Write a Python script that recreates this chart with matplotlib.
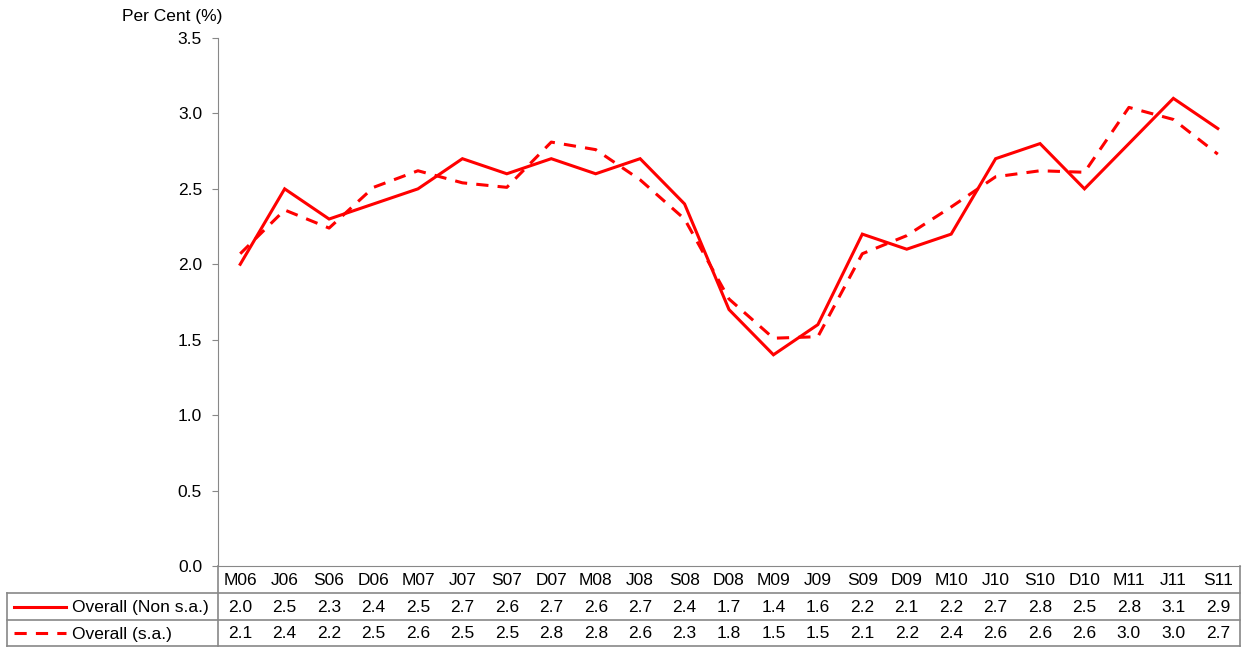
import matplotlib.pyplot as plt
from matplotlib.lines import Line2D
from matplotlib import transforms

plt.rcParams['font.family'] = ['Liberation Sans', 'DejaVu Sans']

# categories and series
quarters = ['M06', 'J06', 'S06', 'D06', 'M07', 'J07', 'S07', 'D07', 'M08', 'J08', 'S08', 'D08',
            'M09', 'J09', 'S09', 'D09', 'M10', 'J10', 'S10', 'D10', 'M11', 'J11', 'S11']
non_sa = [2.0, 2.5, 2.3, 2.4, 2.5, 2.7, 2.6, 2.7, 2.6, 2.7, 2.4, 1.7,
          1.4, 1.6, 2.2, 2.1, 2.2, 2.7, 2.8, 2.5, 2.8, 3.1, 2.9]
sa = [2.07, 2.36, 2.24, 2.51, 2.62, 2.54, 2.51, 2.81, 2.76, 2.56, 2.30, 1.77,
      1.51, 1.52, 2.07, 2.19, 2.38, 2.58, 2.62, 2.61, 3.04, 2.96, 2.73]
series_names = ['Overall (Non s.a.)', 'Overall (s.a.)']
yticks = [0.0, 0.5, 1.0, 1.5, 2.0, 2.5, 3.0, 3.5]

W, H = 1244, 648
RED = '#ff0000'
GREY = '#888888'
FS = 12.5

fig = plt.figure(figsize=(W / 100, H / 100), dpi=100)

def fx(px):
    return px / W

def fy(py):
    return 1 - py / H

ax = fig.add_axes([fx(218), fy(566), fx(1240) - fx(218), fy(38) - fy(566)])
x = list(range(len(quarters)))
ax.plot(x, non_sa, color=RED, lw=2.2, solid_joinstyle='miter')
ax.plot(x, sa, color=RED, lw=2.2, dashes=(4, 3))

ax.set_xlim(-0.5, len(quarters) - 0.5)
ax.set_ylim(0, 3.5)
ax.set_yticks(yticks)
ax.set_yticklabels(['%.1f' % t for t in yticks], fontsize=FS)
ax.set_xticks([])
for s in ['top', 'right']:
    ax.spines[s].set_visible(False)
ax.spines['left'].set_color(GREY)
ax.spines['bottom'].set_color(GREY)
ax.tick_params(axis='y', direction='out', length=4.5, color=GREY, pad=7)

fig.text(fx(222), fy(16), 'Per Cent (%)', fontsize=FS, ha='right', va='center')

# data table below the axis
def hline(x0, x1, py):
    fig.add_artist(Line2D([fx(x0), fx(x1)], [fy(py), fy(py)], color=GREY, lw=1.2,
                          transform=fig.transFigure))

def vline(px, y0, y1):
    fig.add_artist(Line2D([fx(px), fx(px)], [fy(y0), fy(y1)], color=GREY, lw=1.2,
                          transform=fig.transFigure))

rows = [566, 593, 620, 646]
hline(7, 1240, rows[1])
hline(7, 1240, rows[2])
hline(7, 1240, rows[3])
vline(7, rows[1], rows[3])
vline(218, rows[0], rows[3])
vline(1240, rows[0], rows[3])

tr = transforms.blended_transform_factory(ax.transData, fig.transFigure)
mid = [(rows[i] + rows[i + 1]) / 2 + 1 for i in range(3)]
for i, q in enumerate(quarters):
    fig.text(i, fy(mid[0]), q, transform=tr, ha='center', va='center', fontsize=FS)
    fig.text(i, fy(mid[1]), '%.1f' % non_sa[i], transform=tr, ha='center', va='center', fontsize=FS)
    fig.text(i, fy(mid[2]), '%.1f' % sa[i], transform=tr, ha='center', va='center', fontsize=FS)

styles = [dict(), dict(dashes=(4, 3))]
for r, (name, st) in enumerate(zip(series_names, styles)):
    yy = fy(mid[r + 1] - 1)
    fig.add_artist(Line2D([fx(14), fx(66)], [yy, yy], color=RED, lw=2.2,
                          transform=fig.transFigure, **st))
    fig.text(fx(72), fy(mid[r + 1]), name, ha='left', va='center', fontsize=FS)

fig.savefig('out.png', dpi=100)
